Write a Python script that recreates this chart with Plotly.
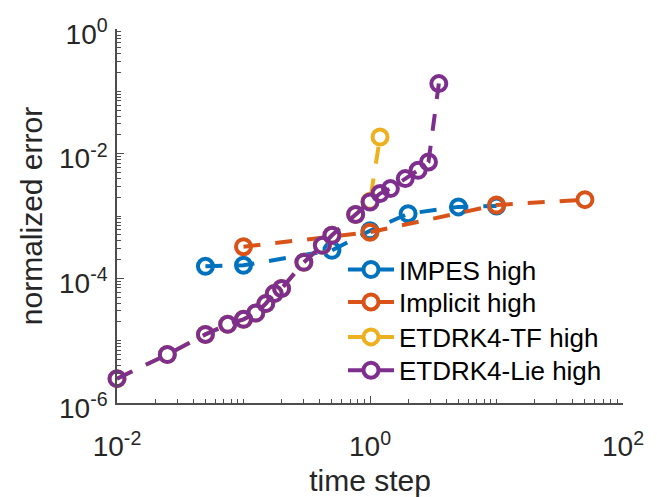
import plotly.graph_objects as go

# ---- data ----
impes_x = [0.05, 0.1, 0.5, 1.0, 2.0, 5.0, 10.0]
impes_y = [1.56e-4, 1.62e-4, 2.82e-4, 5.8e-4, 1.09e-3, 1.40e-3, 1.45e-3]

implicit_x = [0.1, 1.0, 10.0, 50.0]
implicit_y = [3.22e-4, 5.5e-4, 1.5e-3, 1.83e-3]

tf_x = [0.01, 0.025, 0.05, 0.075, 0.1, 0.125, 0.15, 0.175, 0.2, 0.3, 0.42, 0.5, 0.77, 1.0, 1.2]
tf_y = [2.46e-6, 6.0e-6, 1.26e-5, 1.83e-5, 2.2e-5, 2.78e-5, 3.93e-5, 5.69e-5, 6.85e-5,
        1.81e-4, 3.39e-4, 4.9e-4, 1.06e-3, 1.72e-3, 1.85e-2]

lie_x = [0.01, 0.025, 0.05, 0.075, 0.1, 0.125, 0.15, 0.175, 0.2, 0.3, 0.42, 0.5, 0.77,
         1.0, 1.2, 1.45, 1.9, 2.4, 2.9, 3.5]
lie_y = [2.46e-6, 6.0e-6, 1.26e-5, 1.83e-5, 2.2e-5, 2.78e-5, 3.93e-5, 5.69e-5, 6.85e-5,
         1.81e-4, 3.39e-4, 4.9e-4, 1.06e-3, 1.68e-3, 2.29e-3, 2.75e-3, 3.98e-3, 5.41e-3,
         7.36e-3, 0.133]

names = ["IMPES high", "Implicit high", "ETDRK4-TF high", "ETDRK4-Lie high"]
colors = ["#0072BD", "#D95319", "#EDB120", "#7E2F8E"]
legend_ids = ["legend", "legend2", "legend3", "legend4"]

x_tickvals = [1e-2, 1e0, 1e2]
x_ticktext = ["10<sup>-2</sup>", "10<sup>0</sup>", "10<sup>2</sup>"]
y_tickvals = [1e-6, 1e-4, 1e-2, 1e0]
y_ticktext = ["10<sup>-6</sup>", "10<sup>-4</sup>", "10<sup>-2</sup>", "10<sup>0</sup>"]

FONT = "Liberation Sans, Arial, Helvetica, sans-serif"

fig = go.Figure()
for xs, ys, name, col, lg in zip([impes_x, implicit_x, tf_x, lie_x],
                                 [impes_y, implicit_y, tf_y, lie_y], names, colors, legend_ids):
    fig.add_trace(go.Scatter(
        x=xs, y=ys, name=name, mode="lines+markers", legend=lg, showlegend=True,
        line=dict(color=col, width=4, dash="17px,15px"),
        marker=dict(symbol="circle-open", size=15, color=col, line=dict(width=4, color=col)),
        cliponaxis=False,
    ))

x_minor = [k * 10 ** d for d in range(-2, 2) for k in range(1, 10)]
x_minor = [v for v in x_minor if v not in (1e-2, 1.0)]
y_minor = [k * 10 ** d for d in range(-6, 0) for k in range(1, 10)]
y_minor = [v for v in y_minor if v not in (1e-6, 1e-4, 1e-2)]

axis_common = dict(
    showgrid=False, zeroline=False, showline=True, linecolor="#4d4d4d", linewidth=1.5,
    ticks="inside", ticklen=7, tickwidth=1.2, tickcolor="#4d4d4d", mirror=False,
    tickfont=dict(family=FONT, size=28, color="#262626"), automargin=False,
)

fig.update_xaxes(type="log", range=[-2, 2], tickmode="array", tickvals=x_tickvals,
                 ticktext=x_ticktext,
                 minor=dict(tickmode="array", tickvals=x_minor, ticks="inside", ticklen=4,
                            tickcolor="#4d4d4d", tickwidth=1),
                 title=dict(text="time step", font=dict(family=FONT, size=30, color="#262626"),
                            standoff=16),
                 ticklabelstandoff=18,
                 **axis_common)
fig.update_yaxes(type="log", range=[-6, 0], tickmode="array", tickvals=y_tickvals,
                 ticktext=y_ticktext,
                 minor=dict(tickmode="array", tickvals=y_minor, ticks="inside", ticklen=4,
                            tickcolor="#4d4d4d", tickwidth=1),
                 title=dict(text="normalized error", font=dict(family=FONT, size=30, color="#262626"),
                            standoff=8),
                 ticklabelstandoff=2, ticklabelshift=5,
                 **axis_common)

legend_y = [0.3567, 0.270, 0.1765, 0.0874]
layout_legends = {}
for lg, yy in zip(legend_ids, legend_y):
    layout_legends[lg] = dict(x=0.4466, y=yy, xanchor="left", yanchor="middle",
                              bgcolor="rgba(0,0,0,0)", borderwidth=0, itemwidth=46,
                              font=dict(family=FONT, size=26, color="black"))

fig.update_layout(
    width=657, height=497,
    margin=dict(l=117, r=34, t=29, b=94, autoexpand=False),
    paper_bgcolor="white", plot_bgcolor="white",
    font=dict(family=FONT, color="black"),
    showlegend=True,
    **layout_legends,
)

fig.write_html("out.html")
